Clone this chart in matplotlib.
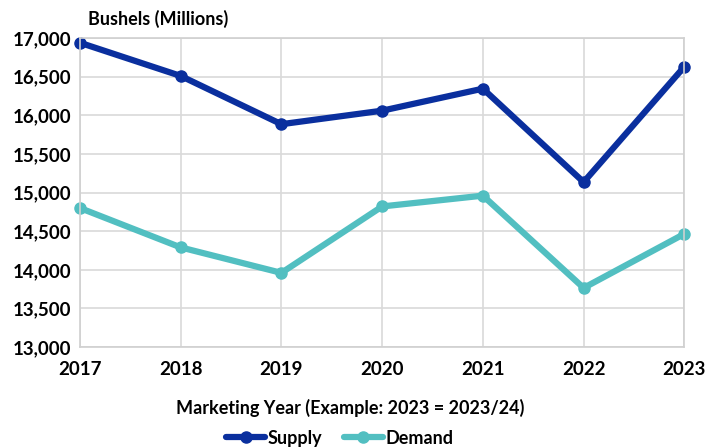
import matplotlib.pyplot as plt
import numpy as np

years = [2017, 2018, 2019, 2020, 2021, 2022, 2023]
supply = [16940, 16510, 15885, 16060, 16345, 15135, 16630]
demand = [14800, 14290, 13960, 14820, 14960, 13765, 14465]

plt.rcParams['font.family'] = ['Lato', 'DejaVu Sans']
plt.rcParams['font.weight'] = 'bold'

fig = plt.figure(figsize=(7.07, 4.48), dpi=100)
ax = fig.add_axes([0.113, 0.2254, 0.855, 0.6896])

ax.plot(years, supply, color='#0A2F9E', lw=4.5, marker='o', ms=8, label='Supply',
        solid_capstyle='round', clip_on=False)
ax.plot(years, demand, color='#52BFC1', lw=4.5, marker='o', ms=8, label='Demand',
        solid_capstyle='round', clip_on=False)

ax.set_xlim(2017, 2023)
ax.set_ylim(13000, 17000)
ax.set_xticks(years)
ax.set_yticks(np.arange(13000, 17001, 500))
ax.yaxis.set_major_formatter(plt.FuncFormatter(lambda v, p: f'{int(v):,}'))
ax.tick_params(labelsize=13.5, length=0, pad=6)
ax.tick_params(axis='x', pad=10)
for lab in ax.get_xticklabels() + ax.get_yticklabels():
    lab.set_fontweight('bold')

ax.grid(True, color='#D9D9D9', lw=1.2)
ax.set_axisbelow(True)
for s in ax.spines.values():
    s.set_color('#D0D0D0')
    s.set_linewidth(1.2)

fig.text(0.495, 0.09, 'Marketing Year (Example: 2023 = 2023/24)', fontsize=13,
         fontweight='bold', ha='center', va='center')
fig.text(0.124, 0.957, 'Bushels (Millions)', fontsize=13, fontweight='bold',
         va='center', ha='left')

fig.legend(loc='center', bbox_to_anchor=(0.48, 0.022), ncol=2, frameon=False,
           handlelength=2.2, handletextpad=0.1, columnspacing=1.2,
           prop={'weight': 'bold', 'size': 13})

fig.savefig('out.png', dpi=100)
